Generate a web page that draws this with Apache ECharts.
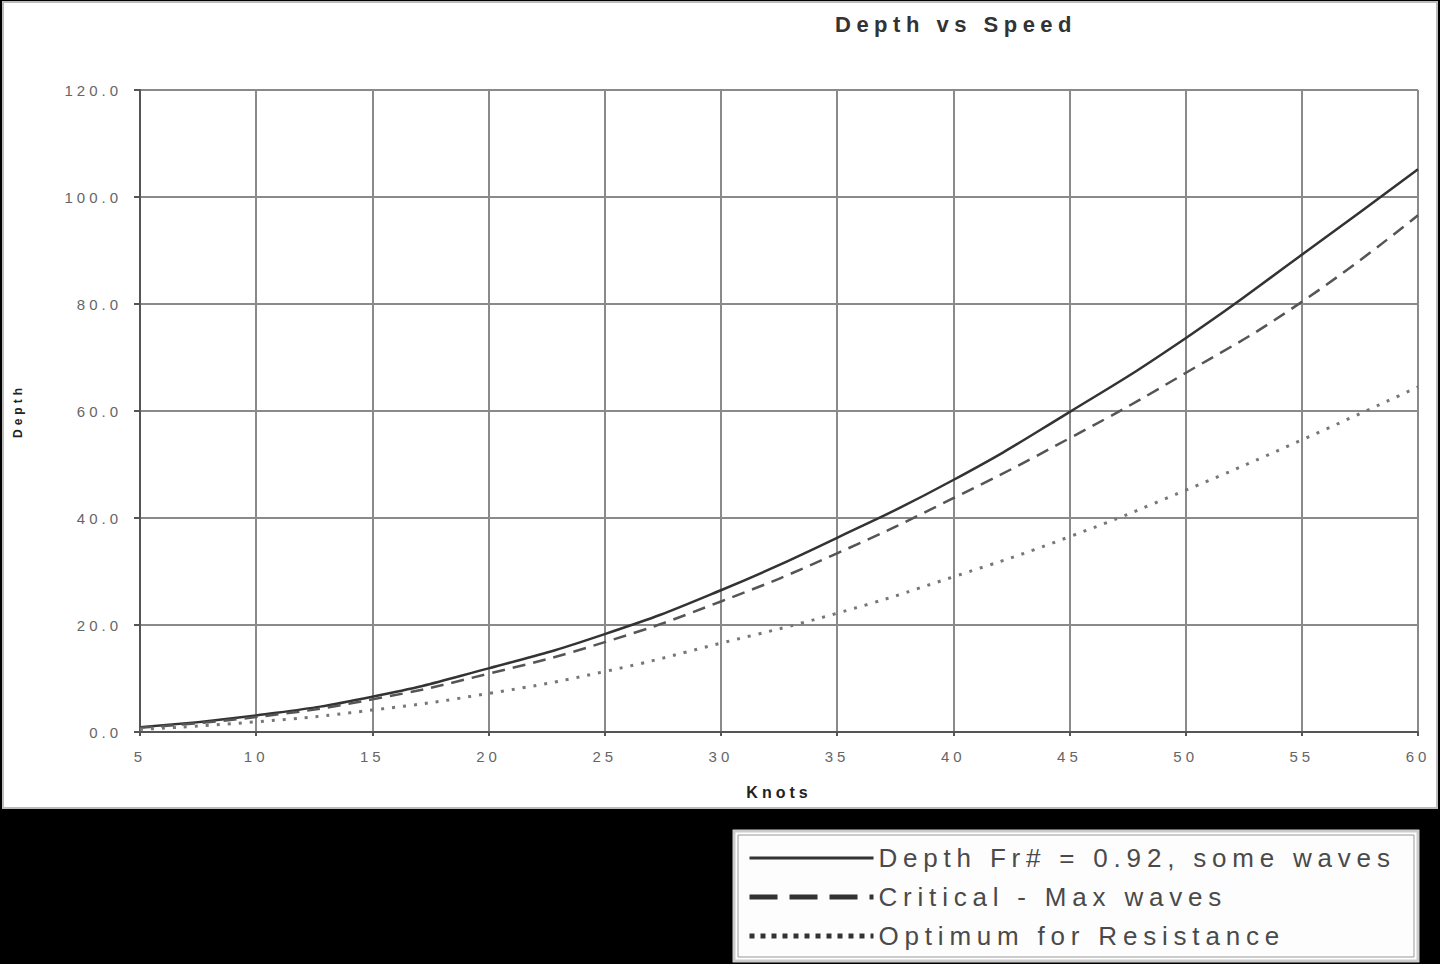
<!DOCTYPE html>
<html>
<head>
<meta charset="utf-8">
<script src="https://cdn.jsdelivr.net/npm/echarts@6/dist/echarts.min.js"></script>
<style>
    html, body { margin: 0; padding: 0; background: #000; }
    #chart { width: 1440px; height: 964px; }
    /* spaced-out lettering like the old spreadsheet print */
    #chart text { letter-spacing: 4px; }
    #chart text[style*="22px"] { letter-spacing: 5.5px; }
    #chart text[style*="26px"] { letter-spacing: 5.8px; }
</style>
</head>
<body>
<div id="chart"></div>
<script>
// knots on the x axis
const knots = [5, 10, 15, 20, 25, 30, 35, 40, 45, 50, 55, 60];
// depth values
const depthFr = [0.9, 3.1, 6.6, 11.9, 18.3, 26.5, 36.3, 47.1, 59.8, 73.6, 89.2, 105.2];
const critical = [0.8, 2.8, 6.1, 10.9, 16.8, 24.4, 33.4, 43.7, 54.9, 67.1, 80.4, 96.6];
const optimum = [0.5, 1.9, 4.1, 7.2, 11.3, 16.6, 22.2, 29.0, 36.5, 45.2, 54.6, 64.5];

const names = ['Depth Fr# = 0.92, some waves', 'Critical - Max waves', 'Optimum for Resistance'];

const font = 'Liberation Sans, Arial, sans-serif';

function pairs(ys) {
    return knots.map((k, i) => [k, ys[i]]);
}

const instance = echarts.init(document.querySelector('#chart'), null, { renderer: 'svg' });
instance.setOption({
    backgroundColor: '#000',
    animation: false,
    graphic: [
        // white chart panel
        {
            type: 'rect',
            z: -10,
            shape: { x: 3, y: 2, width: 1434, height: 806 },
            style: { fill: '#fff', stroke: '#bbb', lineWidth: 2 },
        },
        // legend box
        {
            type: 'rect',
            z: -10,
            shape: { x: 734, y: 831, width: 684, height: 130 },
            style: { fill: '#fff', stroke: '#ccc', lineWidth: 3 },
        },
        {
            type: 'rect',
            z: -9,
            shape: { x: 738, y: 835, width: 676, height: 122 },
            style: { fill: '#fdfdfd', stroke: '#999', lineWidth: 1 },
        },
    ],
    title: {
        text: 'Depth vs Speed',
        left: 830,
        top: 8,
        textStyle: {
            color: '#333',
            fontSize: 22,
            fontWeight: 'bold',
            fontFamily: font,
        },
    },
    legend: {
        orient: 'vertical',
        left: 742,
        top: 840,
        itemWidth: 124,
        itemHeight: 14,
        itemGap: 13,
        textStyle: {
            color: '#4a4a4a',
            fontSize: 26,
            fontFamily: font,
        },
        data: [
            {
                name: names[0],
                itemStyle: { opacity: 0 },
                lineStyle: { color: '#333', width: 3, type: 'solid' },
            },
            {
                name: names[1],
                itemStyle: { opacity: 0 },
                lineStyle: { color: '#333', width: 5, type: [28, 12] },
            },
            {
                name: names[2],
                itemStyle: { opacity: 0 },
                lineStyle: { color: '#333', width: 5, type: [5, 6] },
            },
        ],
    },
    grid: {
        left: 140,
        right: 22,
        top: 90,
        bottom: 232,
    },
    xAxis: {
        type: 'value',
        min: 5,
        max: 60,
        interval: 5,
        name: 'Knots',
        nameLocation: 'middle',
        nameGap: 52,
        nameTextStyle: {
            color: '#222',
            fontSize: 16,
            fontWeight: 'bold',
            fontFamily: font,
        },
        axisLine: { lineStyle: { color: '#555', width: 2 } },
        axisTick: { show: true, length: 4, lineStyle: { color: '#555', width: 2 } },
        axisLabel: {
            color: '#666',
            fontSize: 15,
            fontFamily: font,
            margin: 17,
        },
        splitLine: { show: true, lineStyle: { color: '#8a8a8a', width: 2 } },
    },
    yAxis: {
        type: 'value',
        min: 0,
        max: 120,
        interval: 20,
        name: 'Depth',
        nameLocation: 'middle',
        nameRotate: 90,
        nameGap: 116,
        nameTextStyle: {
            color: '#222',
            fontSize: 12,
            fontWeight: 'bold',
            fontFamily: font,
        },
        axisLine: { show: true, lineStyle: { color: '#555', width: 2 } },
        axisTick: { show: true, length: 6, lineStyle: { color: '#555', width: 2 } },
        axisLabel: {
            color: '#666',
            fontSize: 15,
            fontFamily: font,
            margin: 18,
            formatter: v => v.toFixed(1),
        },
        splitLine: { show: true, lineStyle: { color: '#8a8a8a', width: 2 } },
    },
    series: [
        {
            name: names[0],
            type: 'line',
            data: pairs(depthFr),
            smooth: true,
            symbol: 'none',
            lineStyle: { color: '#333', width: 2.5, type: 'solid' },
            itemStyle: { color: '#333' },
        },
        {
            name: names[1],
            type: 'line',
            data: pairs(critical),
            smooth: true,
            symbol: 'none',
            lineStyle: { color: '#555', width: 2.5, type: [13, 8] },
            itemStyle: { color: '#555' },
        },
        {
            name: names[2],
            type: 'line',
            data: pairs(optimum),
            smooth: true,
            symbol: 'none',
            lineStyle: { color: '#777', width: 3, type: [3, 8] },
            itemStyle: { color: '#777' },
        },
    ],
});
</script>
</body>
</html>
